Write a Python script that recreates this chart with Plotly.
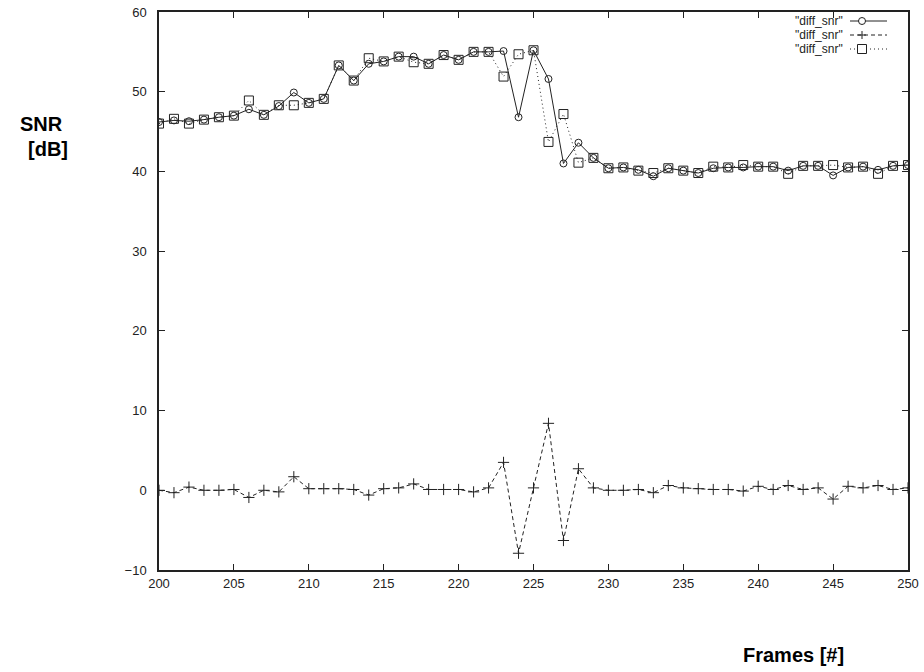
import plotly.graph_objects as go

frames = list(range(200, 251))

snr_circle = [46.2, 46.4, 46.3, 46.5, 46.8, 47.0, 47.8, 47.1, 48.2, 49.9,
              48.6, 49.1, 53.3, 51.4, 53.5, 53.8, 54.4, 54.4, 53.5, 54.6,
              54.0, 55.0, 55.0, 55.1, 46.8, 55.2, 51.6, 41.0, 43.6, 41.7,
              40.4, 40.5, 40.2, 39.4, 40.4, 40.1, 39.8, 40.4, 40.5, 40.5,
              40.6, 40.6, 40.1, 40.7, 40.7, 39.5, 40.5, 40.6, 40.2, 40.7, 40.8]

snr_cross = [0.0, -0.3, 0.4, 0.0, 0.0, 0.1, -0.9, 0.0, -0.2, 1.7,
             0.2, 0.2, 0.2, 0.1, -0.6, 0.2, 0.3, 0.8, 0.1, 0.1,
             0.1, -0.2, 0.3, 3.5, -7.9, 0.3, 8.4, -6.3, 2.7, 0.3,
             0.0, 0.0, 0.1, -0.3, 0.6, 0.3, 0.2, 0.1, 0.1, -0.1,
             0.5, 0.1, 0.6, 0.1, 0.3, -1.1, 0.5, 0.3, 0.6, 0.1, 0.3]

snr_square = [46.0, 46.6, 46.0, 46.5, 46.8, 47.0, 48.9, 47.1, 48.3, 48.3,
              48.6, 49.1, 53.3, 51.4, 54.2, 53.8, 54.4, 53.7, 53.5, 54.6,
              54.0, 55.0, 55.0, 51.9, 54.7, 55.2, 43.7, 47.2, 41.1, 41.7,
              40.4, 40.5, 40.1, 39.8, 40.4, 40.1, 39.8, 40.6, 40.5, 40.8,
              40.6, 40.6, 39.7, 40.7, 40.7, 40.8, 40.5, 40.6, 39.7, 40.7, 40.8]

legend_labels = ['"diff_snr"', '"diff_snr"', '"diff_snr"']
x_ticks = [200, 205, 210, 215, 220, 225, 230, 235, 240, 245, 250]
y_ticks = [-10, 0, 10, 20, 30, 40, 50, 60]

FONT = "Liberation Sans, Arial, sans-serif"
INK = "#222222"

W, H = 924, 672
L, R, T, B = 159, 16, 12, 102
pw, ph = W - L - R, H - T - B


def pxx(x):
    return (x - L) / pw


def pxy(y):
    return 1 - (y - T) / ph


fig = go.Figure()
fig.add_trace(go.Scatter(
    x=frames, y=snr_circle, mode="lines+markers", name=legend_labels[0],
    line=dict(color=INK, width=1),
    marker=dict(symbol="circle-open", size=7, color=INK, line=dict(width=1))))
fig.add_trace(go.Scatter(
    x=frames, y=snr_cross, mode="lines+markers", name=legend_labels[1],
    line=dict(color=INK, width=1, dash="4px,3px"),
    marker=dict(symbol="cross-thin-open", size=8, color=INK, line=dict(width=1, color=INK))))
fig.add_trace(go.Scatter(
    x=frames, y=snr_square, mode="lines+markers", name=legend_labels[2],
    line=dict(color=INK, width=1, dash="1px,3px"),
    marker=dict(symbol="square-open", size=9, color=INK, line=dict(width=1))))

# gnuplot-style key: text on the left, line sample on the right
leg_rows_px = [21, 35, 49]
dashes = ["solid", "4px,3px", "1px,3px"]
for i, lab in enumerate(legend_labels):
    yp = pxy(leg_rows_px[i])
    fig.add_annotation(x=pxx(844), y=yp, xref="paper", yref="paper",
                       text=lab, showarrow=False, xanchor="right", yanchor="middle",
                       font=dict(family=FONT, size=12, color=INK), borderpad=0)
    fig.add_shape(type="line", xref="paper", yref="paper",
                  x0=pxx(850), x1=pxx(887), y0=yp, y1=yp,
                  line=dict(color=INK, width=1, dash=dashes[i]))

cx = 862
r0, r1, r2 = leg_rows_px
fig.add_shape(type="circle", xref="paper", yref="paper",
              x0=pxx(cx - 3.5), x1=pxx(cx + 3.5), y0=pxy(r0 + 3.5), y1=pxy(r0 - 3.5),
              line=dict(color=INK, width=1), fillcolor="white")
fig.add_shape(type="line", xref="paper", yref="paper",
              x0=pxx(cx - 4), x1=pxx(cx + 4), y0=pxy(r1), y1=pxy(r1),
              line=dict(color=INK, width=1))
fig.add_shape(type="line", xref="paper", yref="paper",
              x0=pxx(cx), x1=pxx(cx), y0=pxy(r1 + 4), y1=pxy(r1 - 4),
              line=dict(color=INK, width=1))
fig.add_shape(type="rect", xref="paper", yref="paper",
              x0=pxx(cx - 4.5), x1=pxx(cx + 4.5), y0=pxy(r2 + 4.5), y1=pxy(r2 - 4.5),
              line=dict(color=INK, width=1), fillcolor="white")

# axis titles
fig.add_annotation(x=pxx(42), y=pxy(124), xref="paper", yref="paper", text="<b>SNR</b>",
                   showarrow=False, xanchor="center", yanchor="middle",
                   font=dict(family=FONT, size=20, color="black"))
fig.add_annotation(x=pxx(48), y=pxy(149), xref="paper", yref="paper", text="<b>[dB]</b>",
                   showarrow=False, xanchor="center", yanchor="middle",
                   font=dict(family=FONT, size=20, color="black"))
fig.add_annotation(x=pxx(793), y=pxy(655), xref="paper", yref="paper", text="<b>Frames [#]</b>",
                   showarrow=False, xanchor="center", yanchor="middle",
                   font=dict(family=FONT, size=20, color="black"))

fig.update_layout(
    width=W, height=H,
    margin=dict(l=L, r=R, t=T, b=B, autoexpand=False),
    paper_bgcolor="white", plot_bgcolor="white",
    showlegend=False,
    hovermode=False,
    font=dict(family=FONT, size=13, color=INK),
)
fig.update_xaxes(range=[200, 250], tickvals=x_ticks, ticks="inside", ticklen=6,
                 tickcolor=INK, showline=True, linecolor=INK, linewidth=1.5,
                 mirror="ticks", showgrid=False, zeroline=False, automargin=False,
                 ticklabelstandoff=1)
fig.update_yaxes(range=[-10, 60], tickvals=y_ticks, ticks="inside", ticklen=6,
                 tickcolor=INK, showline=True, linecolor=INK, linewidth=1.5,
                 mirror="ticks", showgrid=False, zeroline=False, automargin=False,
                 ticklabelstandoff=8)

fig.write_html("out.html", config={"displayModeBar": False},
               post_script="document.body.style.margin='0';document.body.style.overflow='hidden';")
